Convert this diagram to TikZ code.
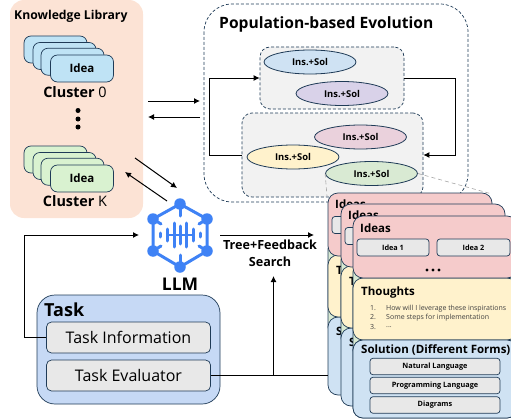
\documentclass[tikz,border=0pt]{standalone}
\usepackage{fontspec}
\setmainfont{Open Sans}
\usetikzlibrary{arrows.meta,shapes.geometric}
\definecolor{edge}{HTML}{1F3B57}
\definecolor{peach}{HTML}{FCE3D5}
\definecolor{ideablue}{HTML}{BFE3F5}
\definecolor{ideagreen}{HTML}{D9F2D0}
\definecolor{cpink}{HTML}{F5CBCB}
\definecolor{cyellow}{HTML}{FFF2CC}
\definecolor{cblue}{HTML}{CFE2F3}
\definecolor{cgreen}{HTML}{D9EAD3}
\definecolor{cpurple}{HTML}{D9D2E9}
\definecolor{crose}{HTML}{EAD1DC}
\definecolor{grey1}{HTML}{F2F2F2}
\definecolor{grey2}{HTML}{E8E8E8}
\definecolor{taskblue}{HTML}{C6D9F5}
\definecolor{llmblue}{HTML}{3F82F5}
\tikzset{
 x=1pt,y=-1pt,
 txt/.style={inner sep=0pt,text=black},
 arr/.style={line width=1pt,-{Latex[length=6pt,width=6pt]}},
 link/.style={line width=1pt},
 card/.style={draw=edge,line width=.7pt,rounded corners=6pt},
 dashbox/.style={draw=edge,line width=.7pt,dash pattern=on 3pt off 2pt},
 sol/.style={draw=edge,line width=.8pt,ellipse,minimum width=92pt,minimum height=24pt,inner sep=0pt,font=\bfseries\fontsize{9.4}{10}\selectfont},
 greybox/.style={draw=edge,line width=.7pt,fill=grey2,rounded corners=3pt,inner sep=0pt,font=\bfseries\fontsize{7.3}{8}\selectfont},
 ttl/.style={txt,anchor=west,font=\bfseries\fontsize{11.5}{12}\selectfont},
 small/.style={txt,anchor=west,font=\fontsize{7}{8}\selectfont,text=black!75},
 llm/.style={draw=llmblue,line width=3pt,line cap=round},
 hub/.style={circle,fill=llmblue,inner sep=0pt,minimum size=11.5pt},
 guide/.style={draw=black!35,line width=.6pt,dash pattern=on 4pt off 3pt},
}
\newcommand{\ideastack}[3]{% prefix, colour, y offset
 \begin{scope}[yshift=-#3pt]
 \foreach \b in {24,33,41}{
  \path[draw=edge,line width=.7pt,fill=#2,rounded corners=7pt] (\b,36) ++(0,{(\b-24)*0.72}) rectangle ++(63,27);
 }
 \node[draw=edge,line width=.7pt,fill=#2,rounded corners=7pt,minimum width=63pt,minimum height=27pt,inner sep=0pt,font=\bfseries\fontsize{11.5}{12}\selectfont] (#1) at (82,68.5) {Idea};
 \end{scope}
}
\newcommand{\backcard}[3]{% prefix, x, y of top-left
 \begin{scope}[shift={(#2,#3)}]
 \path[card,fill=cgreen] (0,50) rectangle (164,140);
 \path[card,fill=cblue,rounded corners=10pt] (0,124) rectangle (164,202);
 \path[card,fill=cyellow,rounded corners=10pt] (0,62) rectangle (164,124);
 \path[card,fill=cpink,rounded corners=10pt] (0,0) rectangle (164,63);
 \node[ttl] (#1i) at (7,11) {Ideas};
 \node[ttl] (#1t) at (8,77) {T};
 \node[ttl] (#1s) at (8,138) {S};
 \node[greybox,minimum width=72pt,minimum height=17pt] (#1b) at (40,32) {};
 \end{scope}
}
\begin{document}
\begin{tikzpicture}
\useasboundingbox (0,0) rectangle (511,420);
% knowledge library
\path[fill=peach,rounded corners=14pt] (10,0) rectangle (143,218);
\node[txt,anchor=west,font=\bfseries\fontsize{12.2}{13}\selectfont] (kl) at (14,16) {Knowledge Library};
\ideastack{ideaa}{ideablue}{0}
\ideastack{ideab}{ideagreen}{110}
\node[txt,font=\fontsize{14.4}{15}\selectfont] (cz) at (75,92) {\textbf{Cluster} 0};
\node[txt,font=\fontsize{14.4}{15}\selectfont] (ck) at (75,201) {\textbf{Cluster} K};
\foreach \n/\y in {d1/110.5,d2/119,d3/127}{
 \node[circle,fill=black,inner sep=0pt,minimum size=5pt] (\n) at (78,\y) {};
}
% arrows library <-> evolution
\coordinate (la) at (148,101); \coordinate (lb) at (200,101);
\coordinate (lc) at (200,117); \coordinate (ld) at (148,117);
\draw[arr] (la) -- (lb);
\draw[arr] (lc) -- (ld);
\coordinate (ma) at (135,158); \coordinate (mb) at (177,188);
\coordinate (mc) at (167,201); \coordinate (md) at (125,172);
\draw[arr] (ma) -- (mb);
\draw[arr] (mc) -- (md);
% evolution
\path[dashbox,rounded corners=28pt] (204,4) rectangle (468,202);
\node[txt,anchor=west,font=\bfseries\fontsize{15.6}{16}\selectfont] (pe) at (219,24.5) {Population-based Evolution};
\node[dashbox,fill=grey1,rounded corners=10pt,minimum width=144pt,minimum height=62pt,inner sep=0pt] (g1) at (332,78) {};
\node[dashbox,fill=grey1,rounded corners=10pt,minimum width=181pt,minimum height=84pt,inner sep=0pt] (g2) at (332.5,155) {};
\node[sol,fill=cblue] (s1) at (310,62) {Ins.+Sol};
\node[sol,fill=cpurple] (s2) at (342,93.5) {Ins.+Sol};
\node[sol,fill=crose] (s3) at (360.5,137) {Ins.+Sol};
\node[sol,fill=cyellow] (s4) at (293,157) {Ins.+Sol};
\node[sol,fill=cgreen] (s5) at (371.5,173.5) {Ins.+Sol};
\draw[link,-{Latex[length=6pt,width=6pt]}] (g1.east) -- (455,78) -- (455,155) -- (g2.east);
\draw[link,-{Latex[length=6pt,width=6pt]}] (g2.west) -- (209.5,155) -- (209.5,78) -- (g1.west);
\draw[guide] (s5.west) -- (327,196);
\draw[guide] (s5.east) -- (492,194);
% stacked cards
\backcard{ca}{328}{193}
\backcard{cb}{341}{204}
\begin{scope}[shift={(353,216)}]
 \path[card,fill=cgreen] (0,50) rectangle (164,140);
\end{scope}
\path[card,fill=cblue,rounded corners=10pt] (353,340) rectangle (517,418);
\path[card,fill=cyellow,rounded corners=10pt] (353,278) rectangle (517,340);
\path[card,fill=cpink,rounded corners=10pt] (353,216) rectangle (517,278);
\path[card,fill=cblue,rounded corners=10pt] (353,340) rectangle (517,418);
\node[ttl] (ideas) at (360,228) {Ideas};
\node[greybox,minimum width=72pt,minimum height=17pt] (i1) at (393,247.5) {Idea 1};
\node[greybox,minimum width=73pt,minimum height=17pt] (i2) at (473.5,247.5) {Idea 2};
\foreach \n/\x in {e1/427,e2/433,e3/439}{
 \node[circle,fill=black,inner sep=0pt,minimum size=3.2pt] (\n) at (\x,270) {};
}
\node[ttl] (tho) at (361,293) {Thoughts};
\node[small] (l1) at (386,308.5) {How will I leverage these inspirations};
\node[small] (l2) at (386,317.5) {Some steps for implementation};
\node[small] (l3) at (386,327) {{.}{.}{.}};
\node[small] (m1) at (370,308.5) {1.};
\node[small] (m2) at (370,317.5) {2.};
\node[small] (m3) at (370,327) {3.};
\node[ttl] (sol) at (361,350) {Solution (Different Forms)};
\node[greybox,minimum width=130pt,minimum height=16.5pt] (f1) at (435,366.5) {Natural Language};
\node[greybox,minimum width=130pt,minimum height=16.5pt] (f2) at (435,385.5) {Programming Language};
\node[greybox,minimum width=130pt,minimum height=16.5pt] (f3) at (435,405) {Diagrams};
% LLM icon
\coordinate (h1) at (180,204); \coordinate (h2) at (207,219); \coordinate (h3) at (207,251);
\coordinate (h4) at (180,267); \coordinate (h5) at (153,251); \coordinate (h6) at (153,219);
\draw[llm] (h1) -- (h2) -- (h3) -- (h4) -- (h5) -- (h6) -- cycle;
\draw[llm] (h1) -- (180,216) (h4) -- (180,255);
\draw[llm] (h2) -- (199,224) (h3) -- (199,246) (h5) -- (161,246) (h6) -- (161,224);
\draw[llm] (160,233) -- (160,237) (200,233) -- (200,237);
\draw[llm] (167,229) -- (167,241) (193,229) -- (193,241);
\draw[llm] (174,223) -- (174,247) (186,223) -- (186,247);
\draw[llm] (180,226) -- (180,244);
\draw[llm,line width=1.4pt] (167,235) -- (193,235);
\foreach \n/\c in {k1/h1,k2/h2,k3/h3,k4/h4,k5/h5,k6/h6}{ \node[hub] (\n) at (\c) {}; }
\node[txt,font=\bfseries\fontsize{17.5}{19}\selectfont] (llmt) at (180,284) {LLM};
\coordinate (ll) at (139,235); \coordinate (lr) at (314,235);
\coordinate (ls) at (220,235);
\draw[arr] (ls) -- (lr);
\node[txt,font=\bfseries\fontsize{12.6}{13}\selectfont] (tf) at (270,245) {Tree+Feedback};
\node[txt,font=\bfseries\fontsize{12.6}{13}\selectfont] (se) at (270,262) {Search};
% task
\path[draw=edge,line width=.7pt,fill=taskblue,rounded corners=18pt] (37,295) rectangle (220,404);
\node[txt,anchor=west,font=\bfseries\fontsize{18}{19}\selectfont] (task) at (44,310) {Task};
\node[draw=edge,line width=.7pt,fill=grey2,rounded corners=5pt,minimum width=164pt,minimum height=31pt,inner sep=0pt,font=\fontsize{16}{17}\selectfont] (ti) at (128.5,337.5) {Task Information};
\node[draw=edge,line width=.7pt,fill=grey2,rounded corners=5pt,minimum width=164pt,minimum height=31pt,inner sep=0pt,font=\fontsize{16}{17}\selectfont] (te) at (128.5,375.5) {Task Evaluator};
\draw[link,-{Latex[length=6pt,width=6pt]}] (ti.west) -- (24,337.5) -- (24,235) -- (ll);
\coordinate (jn) at (273.5,375.5); \coordinate (ju) at (273.5,276); \coordinate (je) at (328,375.5);
\draw[link] (te.east) -- (je);
\draw[arr] (jn) -- (ju);
\end{tikzpicture}
\end{document}
